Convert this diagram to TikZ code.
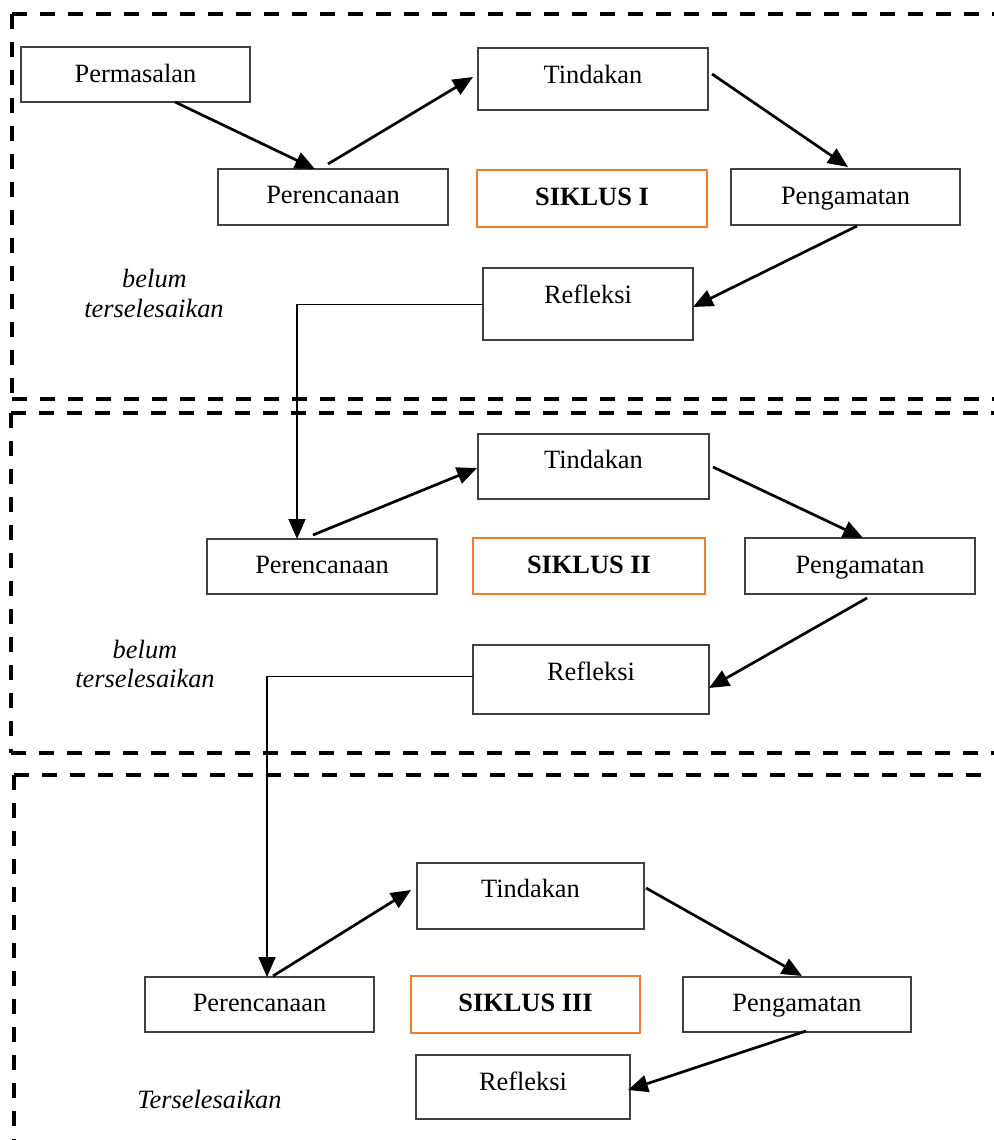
\documentclass[tikz,border=0pt]{standalone}
\usepackage{fontspec}
\setmainfont{Liberation Serif}
\usetikzlibrary{arrows.meta,calc}
\definecolor{sikorange}{HTML}{ED7D31}
\definecolor{boxline}{HTML}{404040}
\newcommand\mkbox[6]{\node[#1, minimum width={(#5-#3)*0.5pt}, minimum height={(#6-#4)*0.5pt}] (#2) at ({(#3+#5)/2},{(#4+#6)/2}) {};}
\begin{document}
\begin{tikzpicture}[x=0.5pt,y=-0.5pt,
  box/.style={draw=boxline, line width=0.65pt, inner sep=0pt, outer sep=0pt},
  sbox/.style={draw=sikorange, line width=1.2pt, inner sep=0pt, outer sep=0pt},
  txt/.style={anchor=base, inner sep=0pt, font=\fontsize{13.2}{15.8}\selectfont},
  btxt/.style={txt, font=\fontsize{13.2}{15.8}\selectfont\bfseries},
  itxt/.style={txt, font=\fontsize{13.2}{15.8}\selectfont\itshape},
  frame/.style={line width=1.75pt, dash pattern=on 7.5pt off 6.5pt},
  arr/.style={line width=1.35pt, -{Triangle[length=10pt,width=8.5pt]}},
  varr/.style={line width=0.9pt, -{Triangle[length=10pt,width=8.5pt]}},
  thin/.style={line width=0.5pt}
]
\useasboundingbox (0,0) rectangle (993,1140);

% dashed frames
\draw[frame] (12,14) -- (1000,14);
\draw[frame] (12,14) -- (12,399);
\draw[frame] (12,399) -- (1000,399);
\draw[frame] (11,413) -- (1000,413);
\draw[frame] (11,413) -- (11,753);
\draw[frame] (11,753) -- (1000,753);
\draw[frame] (14,775) -- (1000,775);
\draw[frame] (14,775) -- (14,1150);

% boxes
\mkbox{box}{perm}{21}{47}{250}{102}
\mkbox{box}{per1}{218}{169}{448}{225}
\mkbox{box}{tin1}{478}{48}{708}{110}
\mkbox{sbox}{sik1}{477}{170}{707}{227}
\mkbox{box}{pen1}{731}{169}{960}{225}
\mkbox{box}{ref1}{483}{268}{693}{340}
\mkbox{box}{per2}{207}{539}{437}{594}
\mkbox{box}{tin2}{478}{434}{709}{499}
\mkbox{sbox}{sik2}{473}{538}{705}{594}
\mkbox{box}{pen2}{745}{538}{975}{594}
\mkbox{box}{ref2}{473}{645}{709}{714}
\mkbox{box}{tin3}{417}{863}{644}{929}
\mkbox{box}{per3}{145}{977}{374}{1032}
\mkbox{sbox}{sik3}{411}{976}{640}{1033}
\mkbox{box}{pen3}{683}{977}{911}{1032}
\mkbox{box}{ref3}{416}{1055}{630}{1119}

% texts
\node[txt] (permt) at (135.5,82) {Permasalan};
\node[txt] (tin1t) at (593,83) {Tindakan};
\node[txt] (per1t) at (333,203) {Perencanaan};
\node[btxt] (sik1t) at (592,205) {SIKLUS I};
\node[txt] (pen1t) at (845.5,204) {Pengamatan};
\node[txt] (ref1t) at (588,303) {Refleksi};
\node[itxt] (bel1a) at (154.5,287) {belum};
\node[itxt] (bel1b) at (154,317) {terselesaikan};

\node[txt] (tin2t) at (593.5,468) {Tindakan};
\node[txt] (per2t) at (322,573) {Perencanaan};
\node[btxt] (sik2t) at (589,573) {SIKLUS II};
\node[txt] (pen2t) at (860,573) {Pengamatan};
\node[txt] (ref2t) at (591,680) {Refleksi};
\node[itxt] (bel2a) at (145,658) {belum};
\node[itxt] (bel2b) at (145,687) {terselesaikan};

\node[txt] (tin3t) at (530.5,897) {Tindakan};
\node[txt] (per3t) at (259.5,1011) {Perencanaan};
\node[btxt] (sik3t) at (525.5,1011) {SIKLUS III};
\node[txt] (pen3t) at (797,1011) {Pengamatan};
\node[txt] (ref3t) at (523,1090) {Refleksi};
\node[itxt] (sel3) at (209.5,1108) {Terselesaikan};

% connectors, cycle I
\draw[arr] ($(perm.south west)+(154,0)$) -- ($(per1.north west)+(97,0)$);
\draw[arr] ($(per1.north west)+(110,-5)$) -- ($(tin1.west)+(-5,-2)$);
\draw[arr] ($(tin1.east)+(4,-5)$) -- ($(pen1.north west)+(117,-2)$);
\draw[arr] ($(pen1.south west)+(126,1)$) -- ($(ref1.east)+(0,3)$);
\coordinate (c1) at (297,304);
\draw[thin] (ref1.west) -- (c1);
\draw[varr] (c1) -- ($(per2.north west)+(90,0)$);

% cycle II
\draw[arr] ($(per2.north west)+(106,-4)$) -- ($(tin2.west)+(-1,1.5)$);
\draw[arr] ($(tin2.east)+(4,0.5)$) -- ($(pen2.north west)+(118,0)$);
\draw[arr] ($(pen2.south west)+(122,4)$) -- ($(ref2.east)+(0,8.5)$);
\coordinate (c2) at (267,676);
\draw[thin] ($(ref2.west)+(0,-3.5)$) -- (c2);
\draw[varr] (c2) -- ($(per3.north west)+(122,0)$);

% cycle III
\draw[arr] ($(per3.north west)+(128,-1)$) -- ($(tin3.west)+(-6,-6)$);
\draw[arr] ($(tin3.east)+(2,-8)$) -- ($(pen3.north west)+(119,-1)$);
\draw[arr] ($(pen3.south west)+(123,-1)$) -- ($(ref3.east)+(-2,3)$);
\end{tikzpicture}
\end{document}
